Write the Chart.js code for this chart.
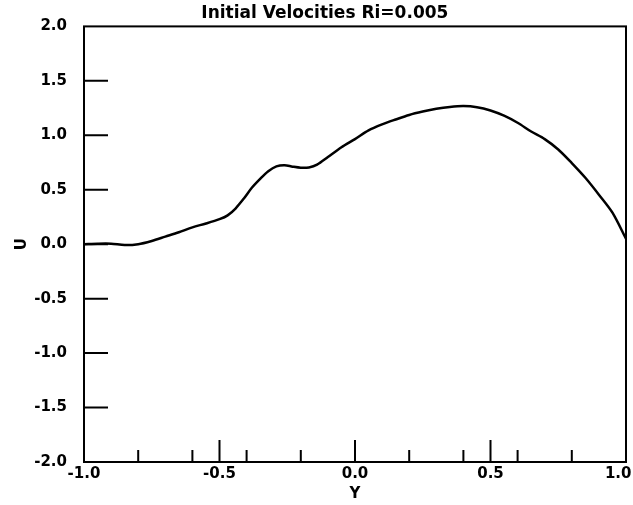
<!DOCTYPE html>
<html>
<head>
<meta charset="utf-8">
<script src="https://cdn.jsdelivr.net/npm/chart.js@4"></script>
<style>
  html, body { margin: 0; padding: 0; background: #fff; }
  #wrap { width: 633px; height: 505px; }
</style>
</head>
<body>
<div id="wrap"><canvas id="chart"></canvas></div>
<script>
// Y positions across the channel
const yPos = [-1.0, -0.95, -0.9, -0.85, -0.8, -0.75, -0.7, -0.65, -0.6, -0.55,
  -0.5, -0.47, -0.44, -0.41, -0.38, -0.35, -0.32, -0.29, -0.26, -0.23,
  -0.2, -0.17, -0.14, -0.1, -0.05, 0.0, 0.05, 0.1, 0.15, 0.2,
  0.25, 0.3, 0.35, 0.4, 0.45, 0.5, 0.55, 0.6, 0.65, 0.7,
  0.75, 0.8, 0.85, 0.9, 0.95, 1.0];
// initial velocity U
const uVel = [0.0, 0.005, 0.005, -0.008, 0.0, 0.03, 0.07, 0.11, 0.155, 0.19,
  0.23, 0.265, 0.33, 0.42, 0.52, 0.6, 0.67, 0.715, 0.726, 0.712,
  0.702, 0.705, 0.73, 0.80, 0.89, 0.965, 1.045, 1.10, 1.145, 1.187,
  1.218, 1.243, 1.26, 1.268, 1.258, 1.228, 1.18, 1.115, 1.035, 0.965,
  0.87, 0.745, 0.61, 0.455, 0.29, 0.05];

// tick marks
const uTicks = [-1.5, -1.0, -0.5, 0.0, 0.5, 1.0, 1.5];
const yMajorTicks = [-0.5, 0.0, 0.5];
const yMinorTicks = [-0.8, -0.6, -0.4, -0.2, 0.2, 0.4, 0.6, 0.8];

// frame + inward ticks, like the old plotter output
const frameTicks = {
    id: 'frameTicks',
    afterDatasetsDraw(chart) {
        const ctx = chart.ctx;
        const a = chart.chartArea;
        const xs = chart.scales.x;
        const ys = chart.scales.y;
        ctx.save();
        ctx.strokeStyle = '#000';
        ctx.lineWidth = 2;
        ctx.strokeRect(a.left, a.top, a.right - a.left, a.bottom - a.top);
        ctx.beginPath();
        uTicks.forEach(v => {
            const py = ys.getPixelForValue(v);
            ctx.moveTo(a.left, py);
            ctx.lineTo(a.left + 24, py);
        });
        yMajorTicks.forEach(v => {
            const px = xs.getPixelForValue(v);
            ctx.moveTo(px, a.bottom);
            ctx.lineTo(px, a.bottom - 22);
        });
        yMinorTicks.forEach(v => {
            const px = xs.getPixelForValue(v);
            ctx.moveTo(px, a.bottom);
            ctx.lineTo(px, a.bottom - 12);
        });
        ctx.stroke();
        ctx.restore();
    }
};

const font = { family: 'DejaVu Sans', size: 15, weight: 'bold' };

new Chart(document.getElementById('chart'), {
    type: 'scatter',
    data: {
        datasets: [{
            data: yPos.map((y, i) => ({ x: y, y: uVel[i] })),
            showLine: true,
            borderColor: '#000',
            borderWidth: 2.5,
            pointRadius: 0,
            tension: 0.3
        }]
    },
    options: {
        responsive: true,
        maintainAspectRatio: false,
        animation: false,
        layout: { padding: { top: 0, right: 7, left: 0, bottom: 0 } },
        plugins: {
            legend: { display: false },
            tooltip: { enabled: false },
            title: {
                display: true,
                // leading spaces nudge it right, the original sits off-centre
                text: '    Initial Velocities Ri=0.005',
                color: '#000',
                font: { family: 'DejaVu Sans', size: 17, weight: 'bold' },
                padding: { top: 3, bottom: 3 }
            }
        },
        scales: {
            x: {
                type: 'linear',
                min: -1, max: 1,
                grid: { display: false, drawTicks: false },
                border: { display: false },
                ticks: {
                    stepSize: 0.5,
                    color: '#000',
                    font: font,
                    padding: 3,
                    maxRotation: 0,
                    // last label pulled in so it stays on the canvas
                    callback: v => v === 1 ? '1.0   ' : v.toFixed(1)
                },
                title: {
                    display: true,
                    text: 'Y',
                    color: '#000',
                    font: font,
                    padding: { top: 0, bottom: 2 }
                },
                afterFit: s => {
                    s.height = 43;
                    s.paddingLeft = 0;
                    s.paddingRight = 0;
                }
            },
            y: {
                min: -2, max: 2,
                grid: { display: false, drawTicks: false },
                border: { display: false },
                ticks: {
                    stepSize: 0.5,
                    color: '#000',
                    font: font,
                    padding: 17,
                    callback: v => v.toFixed(1)
                },
                title: {
                    display: true,
                    text: 'U',
                    color: '#000',
                    font: font,
                    padding: { top: 13, bottom: 0 }
                },
                afterFit: s => {
                    s.width = 84;
                    s.paddingTop = 0;
                    s.paddingBottom = 0;
                }
            }
        }
    },
    plugins: [frameTicks]
});
</script>
</body>
</html>
